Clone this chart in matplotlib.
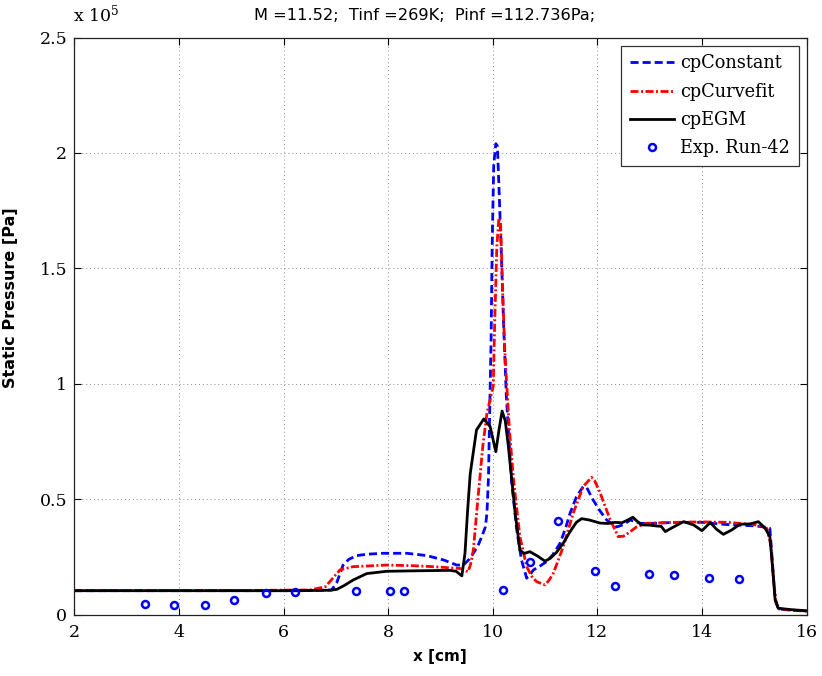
import matplotlib
matplotlib.use("Agg")
import matplotlib.pyplot as plt
from matplotlib.ticker import FuncFormatter, MultipleLocator

plt.rcParams["mathtext.fontset"] = "dejavuserif"

# Static pressure distributions (values in units of 1e5 Pa)
x_const = [2.0, 6.3, 6.92, 7.02, 7.14, 7.25, 7.40, 7.6, 7.91, 8.36, 8.74, 9.06, 9.2, 9.31,
           9.44, 9.55, 9.63, 9.72, 9.79, 9.86, 9.89, 9.92, 9.94, 9.97, 9.99, 10.02, 10.06,
           10.09, 10.12, 10.16, 10.21, 10.26, 10.30, 10.36, 10.46, 10.55, 10.65, 10.70,
           10.78, 10.9, 11.03, 11.15, 11.29, 11.40, 11.48, 11.6, 11.73, 11.80, 11.92, 12.05,
           12.18, 12.37, 12.5, 12.63, 12.82, 13.0, 13.5, 14.0, 14.5, 15.0, 15.2, 15.30,
           15.35, 15.40, 15.46, 15.7, 16.0]
p_const = [0.104, 0.104, 0.107, 0.14, 0.215, 0.24, 0.256, 0.262, 0.266, 0.266, 0.256, 0.237,
           0.225, 0.215, 0.215, 0.24, 0.266, 0.30, 0.338, 0.38, 0.44, 0.60, 0.85, 1.2, 1.6,
           1.95, 2.04, 2.03, 1.85, 1.6, 1.25, 0.95, 0.80, 0.58, 0.367, 0.237, 0.158, 0.17,
           0.194, 0.21, 0.23, 0.26, 0.31, 0.38, 0.44, 0.51, 0.555, 0.55, 0.497, 0.45, 0.41,
           0.38, 0.39, 0.41, 0.396, 0.395, 0.40, 0.40, 0.39, 0.385, 0.38, 0.374, 0.22, 0.07,
           0.025, 0.02, 0.015]

x_curve = [2.0, 5.2, 6.5, 6.80, 6.95, 7.08, 7.33, 7.97, 8.5, 8.86, 9.38, 9.53, 9.58, 9.63,
           9.72, 9.81, 9.89, 9.95, 10.01, 10.04, 10.08, 10.12, 10.15, 10.19, 10.23, 10.28,
           10.32, 10.40, 10.52, 10.65, 10.75, 10.84, 11.0, 11.08, 11.16, 11.35, 11.54,
           11.73, 11.89, 11.95, 12.05, 12.24, 12.40, 12.5, 12.59, 12.75, 12.94, 13.5, 14.0,
           14.5, 15.0, 15.24, 15.32, 15.37, 15.42, 15.48, 15.7, 16.0]
p_curve = [0.104, 0.105, 0.107, 0.121, 0.16, 0.194, 0.208, 0.215, 0.212, 0.208, 0.20, 0.186,
           0.22, 0.28, 0.51, 0.728, 0.873, 0.93, 0.99, 1.28, 1.6, 1.72, 1.70, 1.4, 1.15, 0.95,
           0.80, 0.58, 0.338, 0.208, 0.165, 0.143, 0.129, 0.15, 0.18, 0.295, 0.44, 0.555,
           0.595, 0.58, 0.53, 0.415, 0.338, 0.34, 0.353, 0.38, 0.396, 0.40, 0.402, 0.40,
           0.39, 0.374, 0.30, 0.15, 0.05, 0.025, 0.02, 0.016]

x_egm = [2.0, 6.3, 6.9, 7.02, 7.15, 7.33, 7.59, 7.97, 8.5, 9.18, 9.3, 9.41, 9.47, 9.52, 9.57,
         9.69, 9.83, 9.95, 10.06, 10.12, 10.18, 10.24, 10.30, 10.43, 10.52, 10.6, 10.71,
         10.85, 11.0, 11.1, 11.22, 11.35, 11.48, 11.60, 11.70, 11.85, 12.05, 12.2, 12.34,
         12.47, 12.58, 12.68, 12.76, 12.85, 13.0, 13.14, 13.22, 13.30, 13.45, 13.65, 13.84,
         14.0, 14.16, 14.28, 14.41, 14.57, 14.73, 14.92, 15.08, 15.21, 15.30, 15.35, 15.40,
         15.46, 15.7, 16.0]
p_egm = [0.104, 0.104, 0.106, 0.11, 0.125, 0.15, 0.178, 0.188, 0.19, 0.192, 0.188, 0.168,
         0.266, 0.45, 0.61, 0.80, 0.848, 0.815, 0.706, 0.80, 0.882, 0.84, 0.728, 0.44, 0.28,
         0.265, 0.273, 0.255, 0.232, 0.244, 0.27, 0.31, 0.36, 0.40, 0.416, 0.41, 0.397,
         0.395, 0.40, 0.398, 0.41, 0.422, 0.405, 0.389, 0.388, 0.384, 0.383, 0.36, 0.379,
         0.403, 0.389, 0.364, 0.399, 0.37, 0.348, 0.367, 0.392, 0.393, 0.403, 0.374, 0.338,
         0.208, 0.064, 0.028, 0.022, 0.017]

x_exp = [3.35, 3.91, 4.50, 5.06, 5.66, 6.22, 7.38, 8.04, 8.31, 10.19, 10.71, 11.24, 11.95,
         12.34, 12.98, 13.47, 14.14, 14.71]
p_exp = [0.045, 0.042, 0.042, 0.062, 0.093, 0.10, 0.104, 0.101, 0.103, 0.107, 0.23, 0.407,
         0.19, 0.126, 0.175, 0.172, 0.16, 0.156]

scale = 1e5
x_ticks = [2, 4, 6, 8, 10, 12, 14, 16]
title_text = "M =11.52;  Tinf =269K;  Pinf =112.736Pa;"

W, H = 822, 676
fig = plt.figure(figsize=(W / 100, H / 100), dpi=100)
ax_l, ax_r, ax_t, ax_b = 74.3, 806.5, 37.5, 614.7
ax = fig.add_axes([ax_l / W, 1 - ax_b / H, (ax_r - ax_l) / W, (ax_b - ax_t) / H])

lw = 2.0
ax.plot(x_const, [v * scale for v in p_const], color="#0000ff", lw=lw,
        dashes=(2.9, 1.45), label="cpConstant")
ax.plot(x_curve, [v * scale for v in p_curve], color="#ff0000", lw=lw,
        dashes=(2.9, 0.9, 0.7, 0.9), label="cpCurvefit")
ax.plot(x_egm, [v * scale for v in p_egm], color="black", lw=lw, label="cpEGM")
ax.plot(x_exp, [v * scale for v in p_exp], ls="none", marker="o", ms=5.0, mew=1.8,
        mfc="none", mec="#0000ff", label="Exp. Run-42")

ax.set_xlim(2, 16)
ax.set_ylim(0, 2.5 * scale)
ax.set_xticks(x_ticks)
ax.yaxis.set_major_locator(MultipleLocator(0.5 * scale))

def yfmt(v, pos):
    s = f"{v / scale:.1f}"
    return s[:-2] if s.endswith(".0") else s

ax.yaxis.set_major_formatter(FuncFormatter(yfmt))
ax.xaxis.set_major_formatter(FuncFormatter(lambda v, p: f"{v:g}"))

ax.grid(True, color="#8a8a8a", lw=0.7, ls=(0, (1, 3)))
ax.tick_params(direction="in", length=5, width=0.8, top=True, right=True,
               labelsize=12.5)
ax.tick_params(axis="x", pad=7)
ax.tick_params(axis="y", pad=5)
for lab in ax.get_xticklabels() + ax.get_yticklabels():
    lab.set_family("DejaVu Serif")
for sp in ax.spines.values():
    sp.set_linewidth(0.9)
    sp.set_color("#222222")

leg = ax.legend(loc="upper right", bbox_to_anchor=(0.990, 0.986), borderaxespad=0,
                prop={"family": "DejaVu Serif", "size": 12.8}, frameon=True,
                fancybox=False, edgecolor="#333333", framealpha=1,
                handlelength=2.5, handletextpad=0.35, labelspacing=0.58,
                borderpad=0.5)
leg.get_frame().set_linewidth(0.9)

fig.text(425 / W, 1 - 19.5 / H, title_text, ha="center", va="baseline",
         family="DejaVu Sans", fontsize=11.7)
fig.text(440 / W, 1 - 657 / H, "x [cm]", ha="center", va="center",
         family="DejaVu Sans", fontweight="bold", fontsize=11)
fig.text(11 / W, 1 - 298 / H, "Static Pressure [Pa]", ha="center", va="center",
         rotation=90, family="DejaVu Sans", fontweight="bold", fontsize=11.5)
fig.text(73 / W, 1 - 21 / H, r"x $10^{5}$", ha="left", va="baseline",
         family="DejaVu Serif", fontsize=12.5)

fig.savefig("out.png", dpi=100)
